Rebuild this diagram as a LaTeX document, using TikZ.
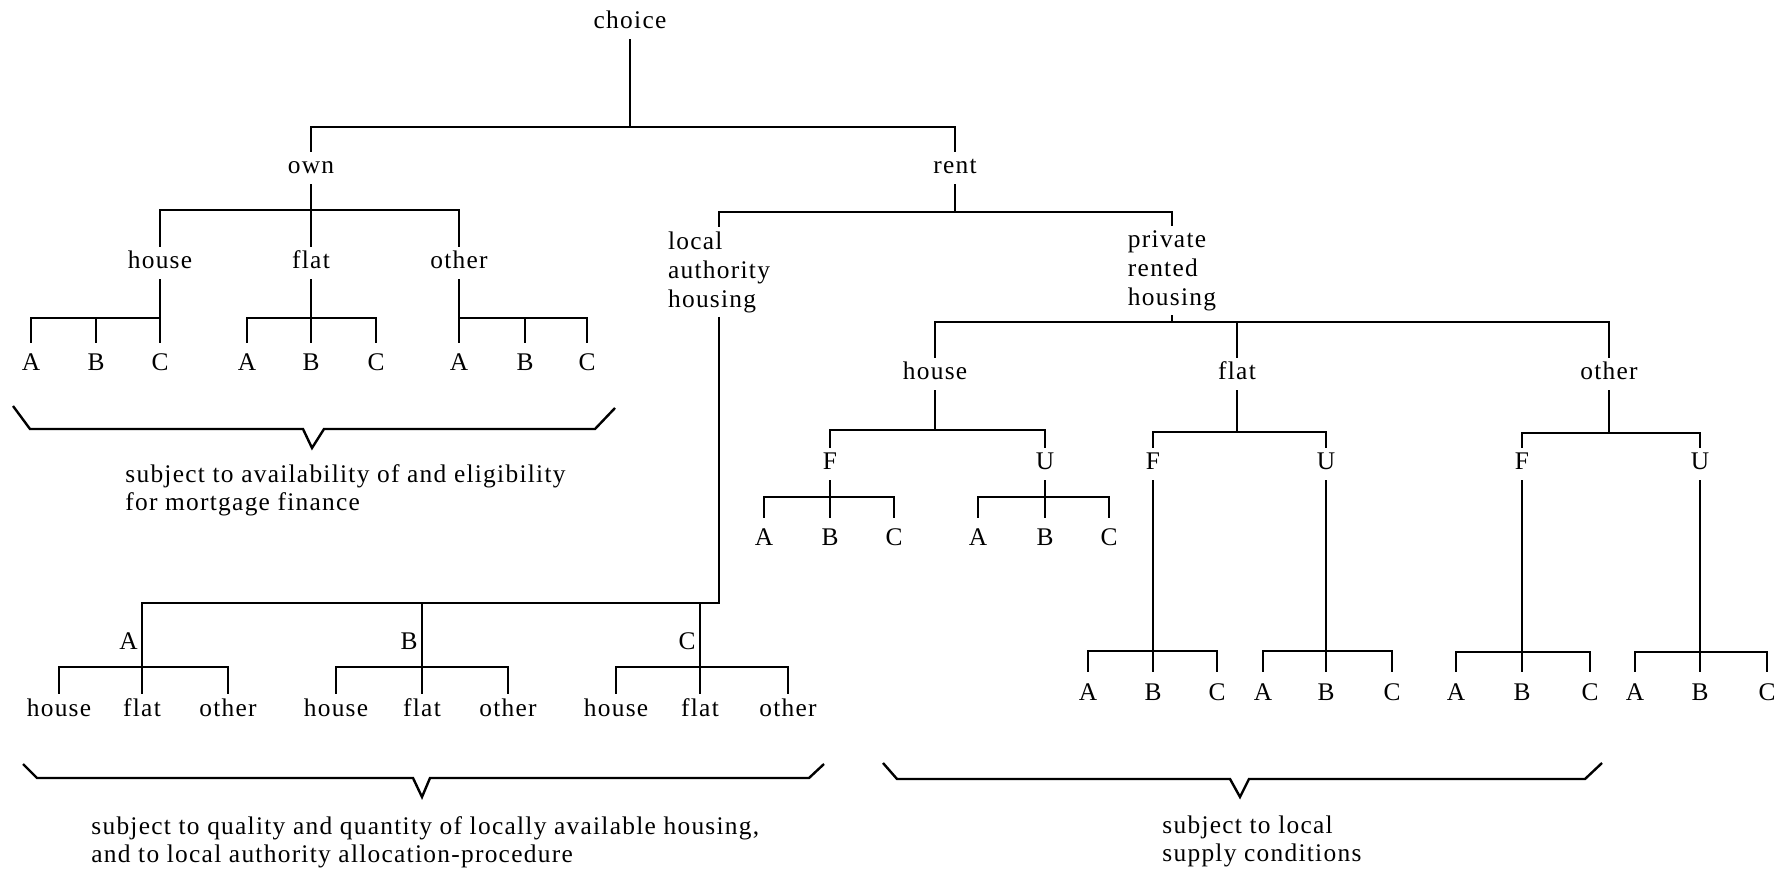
\documentclass[tikz,border=0pt]{standalone}
\usepackage{fontspec}
\setmainfont{Liberation Serif}[LetterSpace=5]
\newcommand{\abctrio}[7]{%
  \node[leaf] (#2a) at (#3,#6) {A};
  \node[leaf] (#2b) at (#4,#6) {B};
  \node[leaf] (#2c) at (#5,#6) {C};
  \draw[tree] (#1.south) -- (#1.south |- 0,#7);
  \draw[tree] (#2a.north) |- (#2c.north |- 0,#7) -- (#2c.north);
  \draw[tree] (#2b.north) -- (#2b.north |- 0,#7);
}
\begin{document}
\begin{tikzpicture}[x=0.5pt,y=-0.5pt,
  tree/.style={line width=1.2pt},
  lab/.style={font=\fontsize{12.7}{14.5}\selectfont, inner sep=2pt, text height=9pt, text depth=3pt, anchor=base},
  leaf/.style={lab, text height=12pt},
  multi/.style={font=\fontsize{12.7}{14.5}\selectfont, inner sep=2pt, align=left, anchor=north},
  captxt/.style={font=\fontsize{12.7}{14}\selectfont, inner sep=2pt, align=left, anchor=north west}]
\useasboundingbox (0,0) rectangle (1787,870);

% top levels
\node[lab] (choice) at (630,29) {choice};
\node[lab] (own) at (311,174) {own};
\node[lab] (rent) at (955,174) {rent};
\draw[tree] (choice.south) -- (choice.south |- 0,127);
\draw[tree] (own.north) |- (rent.north |- 0,127) -- (rent.north);

% own subtree
\node[lab] (h1) at (160,269) {house};
\node[lab] (f1) at (311,269) {flat};
\node[lab] (o1) at (459,269) {other};
\draw[tree] (own.south) -- (f1.north);
\draw[tree] (h1.north) |- (o1.north |- 0,210) -- (o1.north);
\abctrio{h1}{hA}{31}{96}{160}{371}{318}
\abctrio{f1}{fA}{247}{311}{376}{371}{318}
\abctrio{o1}{oA}{459}{525}{587}{371}{318}

\draw[tree] (13,406) -- (30,429) -- (303,429) -- (312,448) -- (324,429) -- (595,429) -- (615,408);
\node[captxt] (cap1) at (121,460) {subject to availability of and eligibility\\for mortgage finance};

% rent subtree
\node[multi] (la) at (719,227) {local\\authority\\housing};
\node[multi] (pr) at (1172,226) {private\\rented\\housing};
\draw[tree] (rent.south) -- (rent.south |- 0,212);
\draw[tree] (la.north) |- (pr.north |- 0,212) -- (pr.north);

% local authority subtree
\node[lab,anchor=base east] (laA) at (142,650) {A};
\node[lab,anchor=base east] (laB) at (422,650) {B};
\node[lab,anchor=base east] (laC) at (700,650) {C};
\node[lab] (lahA) at (59,716) {house};
\node[lab] (lafA) at (142,716) {flat};
\node[lab] (laoA) at (228,716) {other};
\node[lab] (lahB) at (336,716) {house};
\node[lab] (lafB) at (422,716) {flat};
\node[lab] (laoB) at (508,716) {other};
\node[lab] (lahC) at (616,716) {house};
\node[lab] (lafC) at (700,716) {flat};
\node[lab] (laoC) at (788,716) {other};
\draw[tree] (la.south) |- (laA.east |- 0,603) -- (lafA.north);
\draw[tree] (laB.east |- 0,603) -- (lafB.north);
\draw[tree] (laC.east |- 0,603) -- (lafC.north);
\draw[tree] (lahA.north) |- (laoA.north |- 0,667) -- (laoA.north);
\draw[tree] (lahB.north) |- (laoB.north |- 0,667) -- (laoB.north);
\draw[tree] (lahC.north) |- (laoC.north |- 0,667) -- (laoC.north);

\draw[tree] (23,764) -- (37,778) -- (413,778) -- (422,797) -- (430,778) -- (809,778) -- (824,764);
\node[captxt] (cap2) at (87,812) {subject to quality and quantity of locally available housing,\\and to local authority allocation-procedure};

% private rented subtree
\node[lab] (h2) at (935,380) {house};
\node[lab] (f2) at (1237,380) {flat};
\node[lab] (o2) at (1609,380) {other};
\draw[tree] (pr.south) -- (pr.south |- 0,322);
\draw[tree] (h2.north) |- (o2.north |- 0,322) -- (o2.north);
\draw[tree] (f2.north) -- (f2.north |- 0,322);

\node[lab] (hF) at (830,470) {F};
\node[lab] (hU) at (1045,470) {U};
\draw[tree] (h2.south) -- (h2.south |- 0,430);
\draw[tree] (hF.north) |- (hU.north |- 0,430) -- (hU.north);
\abctrio{hF}{hFx}{764}{830}{894}{546}{497}
\abctrio{hU}{hUx}{978}{1045}{1109}{546}{497}

\node[lab] (fF) at (1153,470) {F};
\node[lab] (fU) at (1326,470) {U};
\draw[tree] (f2.south) -- (f2.south |- 0,432);
\draw[tree] (fF.north) |- (fU.north |- 0,432) -- (fU.north);
\abctrio{fF}{fFx}{1088}{1153}{1217}{700}{651}
\abctrio{fU}{fUx}{1263}{1326}{1392}{700}{651}

\node[lab] (oF) at (1522,470) {F};
\node[lab] (oU) at (1700,470) {U};
\draw[tree] (o2.south) -- (o2.south |- 0,433);
\draw[tree] (oF.north) |- (oU.north |- 0,433) -- (oU.north);
\abctrio{oF}{oFx}{1456}{1522}{1590}{700}{652}
\abctrio{oU}{oUx}{1635}{1700}{1767}{700}{652}

\draw[tree] (883,763) -- (897,779) -- (1230,779) -- (1240,797) -- (1249,779) -- (1585,779) -- (1602,763);
\node[captxt] (cap3) at (1158,811) {subject to local\\supply conditions};
\end{tikzpicture}
\end{document}
